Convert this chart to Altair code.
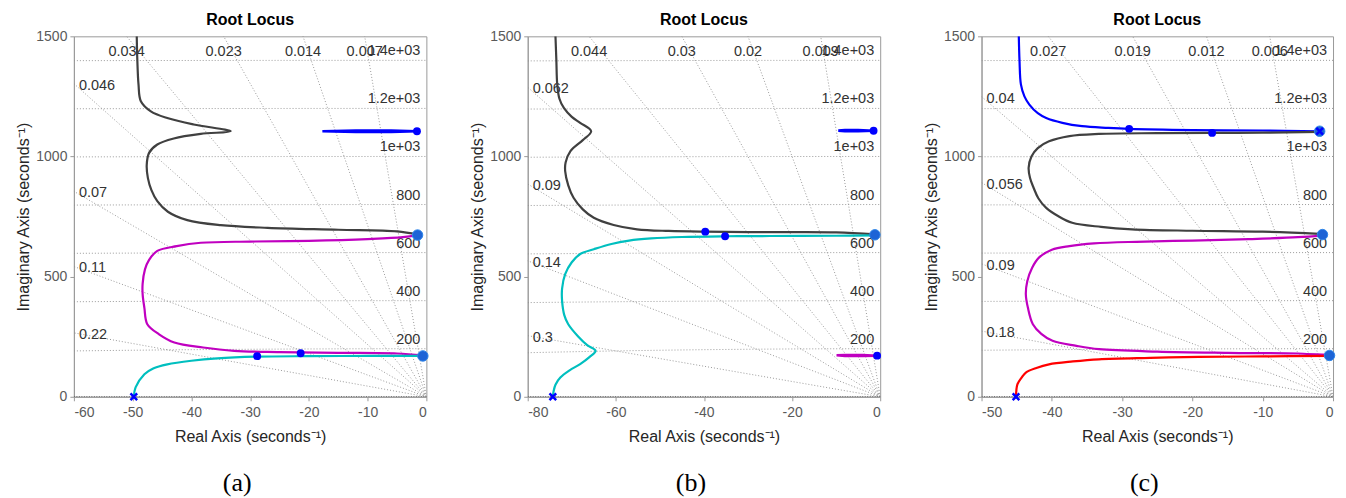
import altair as alt
import numpy as np
import pandas as pd

FONT = "Liberation Sans"
SERIF = "Liberation Serif"
GRID_C = "#8f8f8f"
BLACK_C = "#404040"
MAGENTA_C = "#c000c0"
CYAN_C = "#00bfbf"
BLUE_C = "#0000ff"
RED_C = "#ff0000"
POLE_FILL = "#1d63d6"

TITLE = "Root Locus"
Y_TICKS = [0, 500, 1000, 1500]
WN = [200, 400, 600, 800, 1000, 1200, 1400]
WN_TXT = ["200", "400", "600", "800", "1e+03", "1.2e+03", "1.4e+03"]

# ---------------- panel (a) ----------------
A_XMIN = -60
A_XTICKS = [-60, -50, -40, -30, -20, -10, 0]
A_ZETA = [0.007, 0.014, 0.023, 0.034, 0.046, 0.07, 0.11, 0.22]
A_ZETA_TXT = ["0.007", "0.014", "0.023", "0.034", "0.046", "0.07", "0.11", "0.22"]

A_BLACK_X = [-49.3, -49.2, -49.0, -48.6, -46.9, -44.1, -39.6, -33.3, -38.4, -43.0, -45.8, -47.2,
             -47.6, -47.4, -46.8, -45.8, -44.0, -40.7, -35.0, -27.0, -15.0, -5.0, -1.5]
A_BLACK_Y = [1500, 1400, 1300, 1230, 1188, 1160, 1133, 1105, 1094, 1075, 1050, 1015,
             965, 910, 860, 814, 770, 735, 714, 703, 695, 688, 675]
A_MAG_X = [-1.5, -4, -10, -20, -30, -38.4, -42.5, -45.8, -47.2, -47.9, -48.3, -48.3, -48.0,
           -47.5, -45.5, -42.9, -38.0, -32.7, -25, -15, -5, -0.6]
A_MAG_Y = [673, 664, 656, 649, 646, 641, 627, 607, 570, 530, 470, 427, 370,
           302, 260, 226, 205, 191, 186, 183, 180, 172]
A_CYAN_X = [-49.8, -49.5, -48.0, -46.5, -44.1, -40.0, -35.6, -28.8, -20.0, -10.0, -0.6]
A_CYAN_Y = [0, 39, 94, 118, 135, 150, 160, 167, 169, 170, 170]
A_BLUE_X = [-1.6, -6, -12, -17.7, -12, -6, -1.6]
A_BLUE_Y = [1105, 1108, 1108, 1105, 1102, 1102, 1105]

A_DOT_X = [-28.8, -21.4, -1.6]
A_DOT_Y = [169, 181, 1105]
A_POLE_X = [-0.6, -1.5]
A_POLE_Y = [170, 673]
A_CROSS_X = [-49.8]
A_CROSS_Y = [0]

# ---------------- panel (b) ----------------
B_XMIN = -80
B_XTICKS = [-80, -60, -40, -20, 0]
B_ZETA = [0.009, 0.02, 0.03, 0.044, 0.062, 0.09, 0.14, 0.3]
B_ZETA_TXT = ["0.009", "0.02", "0.03", "0.044", "0.062", "0.09", "0.14", "0.3"]

B_BLACK_X = [-73.7, -73.5, -73.3, -72.8, -71.8, -70.0, -68.1, -65.6, -67.5, -70.3, -71.4, -71.5,
             -70.8, -69.6, -67.5, -65.0, -60.5, -55.2, -48.0, -39.7, -25.0, -10.0, -1.2]
B_BLACK_Y = [1500, 1400, 1300, 1240, 1202, 1165, 1140, 1105, 1068, 1022, 975, 939,
             880, 828, 780, 745, 715, 697, 690, 687, 685, 684, 676]
B_CYAN_X = [-1.2, -10, -25, -35.2, -45, -52, -57, -61, -65, -68, -70, -71.5, -72.2, -72.2,
            -71.7, -70.8, -68.5, -66.5, -64.6, -66.0, -68.1, -70.5, -72.6, -73.7, -74.1, -74.3]
B_CYAN_Y = [672, 670, 669, 668, 665, 659, 650, 636, 614, 595, 560, 510, 450, 399,
            340, 302, 250, 215, 191, 165, 136, 110, 80, 50, 25, 0]
B_MAG_X = [-0.7, -4, -8, -9.9, -8, -4, -0.7]
B_MAG_Y = [171, 174, 174, 172.5, 170, 169.5, 171]
B_BLUE_X = [-1.5, -5, -8, -9.5, -8, -5, -1.5]
B_BLUE_Y = [1107, 1110, 1110, 1107.5, 1105, 1105, 1107]

B_DOT_X = [-39.7, -35.2, -1.5, -0.7]
B_DOT_Y = [687, 668, 1107, 171]
B_POLE_X = [-1.2]
B_POLE_Y = [674]
B_CROSS_X = [-74.3]
B_CROSS_Y = [0]

# ---------------- panel (c) ----------------
C_XMIN = -50
C_XTICKS = [-50, -40, -30, -20, -10, 0]
C_ZETA = [0.006, 0.012, 0.019, 0.027, 0.04, 0.056, 0.09, 0.18]
C_ZETA_TXT = ["0.006", "0.012", "0.019", "0.027", "0.04", "0.056", "0.09", "0.18"]

C_BLUE_X = [-44.7, -44.6, -44.4, -43.9, -43.2, -42.0, -40.8, -38.5, -35.7, -32.0, -29.0, -20.0, -10.0, -1.9]
C_BLUE_Y = [1500, 1400, 1300, 1250, 1216, 1180, 1160, 1140, 1126, 1119, 1115, 1110, 1108, 1105]
C_BLACK_X = [-1.9, -10, -17.2, -25, -33.3, -37.5, -40.4, -42.0, -42.9, -43.3, -43.1, -42.6,
             -41.9, -40.8, -39.0, -37.1, -33.0, -28.6, -20.0, -10.0, -1.9]
C_BLACK_Y = [1102, 1099, 1098, 1097, 1094, 1085, 1063, 1035, 1000, 953, 910, 870,
             825, 786, 750, 724, 707, 697, 691, 687, 678]
C_MAG_X = [-1.5, -5, -12, -20, -28, -34, -37.5, -40.0, -41.8, -42.8, -43.5, -43.7, -43.4,
           -42.7, -41.5, -39.9, -36.5, -33.3, -25, -15, -5, -0.5]
C_MAG_Y = [672, 664, 656, 650, 645, 638, 627, 612, 580, 537, 480, 427, 370,
           302, 262, 233, 212, 198, 188, 183, 180, 174]
C_RED_X = [-45.1, -44.9, -44.3, -43.7, -42.2, -40.4, -37.0, -33.3, -26.0, -19.1, -10.0, -0.5]
C_RED_Y = [0, 52, 80, 101, 120, 135, 147, 156, 162, 166, 168, 170]

C_DOT_X = [-29.0, -17.2]
C_DOT_Y = [1115, 1098]
C_POLE_X = [-1.9, -1.5, -0.5]
C_POLE_Y = [1105, 675, 172]
C_CROSS_X = [-45.1, -1.9]
C_CROSS_Y = [0, 1105]

PLOT_H = 361
CROSS_PATH = "M -1 -1 L 1 1 M -1 1 L 1 -1"


def enc(xmin, xticks):
    x = alt.X("x:Q", scale=alt.Scale(domain=[xmin, 0], nice=False, zero=False),
              axis=alt.Axis(values=xticks,
                            title="Real Axis (seconds⁻¹)", labelExpr="'' + datum.value",
                            tickSize=4, labelPadding=5, titlePadding=9))
    y = alt.Y("y:Q", scale=alt.Scale(domain=[0, 1500], nice=False, zero=False),
              axis=alt.Axis(values=Y_TICKS, title="Imaginary Axis (seconds⁻¹)",
                            labelExpr="'' + datum.value", tickSize=4, labelPadding=3,
                            titlePadding=4))
    return x, y


def panel(xmin, xticks, zetas, zeta_txt, curves, dots, poles, crosses, caption, width,
          spacer=None):
    X, Y = enc(xmin, xticks)

    # natural-frequency circles
    rows = []
    for w in WN:
        xs = np.linspace(xmin, 0, 120)
        for i, xv in enumerate(xs):
            rows.append({"x": xv, "y": float(np.sqrt(w * w - xv * xv)), "g": w, "i": i})
    wn_df = pd.DataFrame(rows)
    wn_lines = alt.Chart(wn_df).mark_line(
        color=GRID_C, strokeDash=[1, 2], strokeWidth=0.9, clip=True
    ).encode(x=X, y=Y, detail="g:N", order="i:Q")

    # constant-damping rays from the origin
    rows = []
    for z in zetas:
        R = 5000.0
        rows.append({"x": 0.0, "y": 0.0, "g": z, "i": 0})
        rows.append({"x": -R * z, "y": R * np.sqrt(1 - z * z), "g": z, "i": 1})
    z_df = pd.DataFrame(rows)
    z_lines = alt.Chart(z_df).mark_line(
        color=GRID_C, strokeDash=[1, 2], strokeWidth=0.9, clip=True
    ).encode(x=X, y=Y, detail="g:N", order="i:Q")

    axis0 = alt.Chart(pd.DataFrame({"x": [xmin, 0], "y": [0, 0], "i": [0, 1]})).mark_line(
        color="#555555", strokeDash=[1, 1.5], strokeWidth=1.6, clip=True
    ).encode(x=X, y=Y, order="i:Q")

    # labels
    wn_lab = alt.Chart(pd.DataFrame({"x": [0] * len(WN), "y": WN, "t": WN_TXT})).mark_text(
        align="right", baseline="middle", dx=-6, dy=-9, font=FONT, fontSize=14.5,
        color="#333333"
    ).encode(x=X, y=Y, text="t:N")

    top_rows, left_rows = [], []
    for z, t in zip(zetas, zeta_txt):
        s = np.sqrt(1 - z * z) / z
        yl = s * (-xmin)
        if yl > 1500:
            top_rows.append({"x": -1500 / s, "y": 1500, "t": t})
        else:
            left_rows.append({"x": xmin, "y": yl, "t": t})
    top_lab = alt.Chart(pd.DataFrame(top_rows)).mark_text(
        align="center", baseline="middle", dy=16, font=FONT, fontSize=14.5, color="#333333"
    ).encode(x=X, y=Y, text="t:N")
    left_lab = alt.Chart(pd.DataFrame(left_rows)).mark_text(
        align="left", baseline="middle", dx=5, dy=2, font=FONT, fontSize=14.5, color="#333333"
    ).encode(x=X, y=Y, text="t:N")

    layers = [wn_lines, z_lines, axis0, wn_lab, top_lab, left_lab]

    for xs, ys, col in curves:
        df = pd.DataFrame({"x": xs, "y": ys, "i": range(len(xs))})
        closed = xs[0] == xs[-1] and ys[0] == ys[-1]
        layers.append(alt.Chart(df).mark_line(
            color=col, strokeWidth=2.6 if closed else 2.2,
            interpolate="linear" if closed else "catmull-rom", clip=True
        ).encode(x=X, y=Y, order="i:Q"))

    dx_, dy_ = dots
    layers.append(alt.Chart(pd.DataFrame({"x": dx_, "y": dy_})).mark_point(
        filled=True, shape="circle", size=62, color=BLUE_C, opacity=1
    ).encode(x=X, y=Y))

    px_, py_ = poles
    if px_:
        layers.append(alt.Chart(pd.DataFrame({"x": px_, "y": py_})).mark_point(
            filled=True, shape="circle", size=110, color=POLE_FILL, opacity=1,
            stroke="#2f86e8", strokeWidth=1
        ).encode(x=X, y=Y))

    cx_, cy_ = crosses
    layers.append(alt.Chart(pd.DataFrame({"x": cx_, "y": cy_})).mark_point(
        shape=CROSS_PATH, filled=False, size=45, color=BLUE_C, strokeWidth=2.5, opacity=1
    ).encode(x=X, y=Y))

    # panel heading and sub-figure caption
    layers.append(alt.Chart(pd.DataFrame({"t": [TITLE]})).mark_text(
        font=FONT, fontSize=16, fontWeight="bold", color="#000000", align="center",
        baseline="middle"
    ).encode(x=alt.value(width / 2), y=alt.value(-16), text="t:N"))
    layers.append(alt.Chart(pd.DataFrame({"t": [caption]})).mark_text(
        font=SERIF, fontSize=26, color="#000000", align="center", baseline="middle"
    ).encode(x=alt.value(width / 2 - 13), y=alt.value(447), text="t:N"))

    if spacer is not None:
        sx1, sx2, sy = spacer
        layers.append(alt.Chart(pd.DataFrame({"t": [0]})).mark_rule(
            color="white", strokeWidth=1
        ).encode(x=alt.value(sx1), x2=alt.value(sx2), y=alt.value(sy), y2=alt.value(sy)))

    return alt.layer(*layers).properties(width=width, height=PLOT_H)


pa = panel(A_XMIN, A_XTICKS, A_ZETA, A_ZETA_TXT,
           [(A_BLACK_X, A_BLACK_Y, BLACK_C), (A_MAG_X, A_MAG_Y, MAGENTA_C),
            (A_CYAN_X, A_CYAN_Y, CYAN_C), (A_BLUE_X, A_BLUE_Y, BLUE_C)],
           (A_DOT_X, A_DOT_Y), (A_POLE_X, A_POLE_Y), (A_CROSS_X, A_CROSS_Y), "(a)", 353,
           spacer=(-72.5, 0, -34.5))
pb = panel(B_XMIN, B_XTICKS, B_ZETA, B_ZETA_TXT,
           [(B_BLACK_X, B_BLACK_Y, BLACK_C), (B_CYAN_X, B_CYAN_Y, CYAN_C),
            (B_MAG_X, B_MAG_Y, MAGENTA_C), (B_BLUE_X, B_BLUE_Y, BLUE_C)],
           (B_DOT_X, B_DOT_Y), (B_POLE_X, B_POLE_Y), (B_CROSS_X, B_CROSS_Y), "(b)", 353)
pc = panel(C_XMIN, C_XTICKS, C_ZETA, C_ZETA_TXT,
           [(C_BLUE_X, C_BLUE_Y, BLUE_C), (C_BLACK_X, C_BLACK_Y, BLACK_C),
            (C_MAG_X, C_MAG_Y, MAGENTA_C), (C_RED_X, C_RED_Y, RED_C)],
           (C_DOT_X, C_DOT_Y), (C_POLE_X, C_POLE_Y), (C_CROSS_X, C_CROSS_Y), "(c)", 352,
           spacer=(0, 363.5, 462.5))

chart = alt.hconcat(pa, pb, pc, spacing=101.5, bounds="flush").properties(
    padding=0
).configure_view(
    stroke="#9a9a9a", strokeWidth=1
).configure_axis(
    labelFont=FONT, labelFontSize=14, labelColor="#5a5a5a",
    titleFont=FONT, titleFontSize=16, titleColor="#262626", titleFontWeight="normal",
    domainColor="#9a9a9a", tickColor="#9a9a9a", grid=False
)

chart.save("out.html", embed_options={"renderer": "svg", "actions": False})
